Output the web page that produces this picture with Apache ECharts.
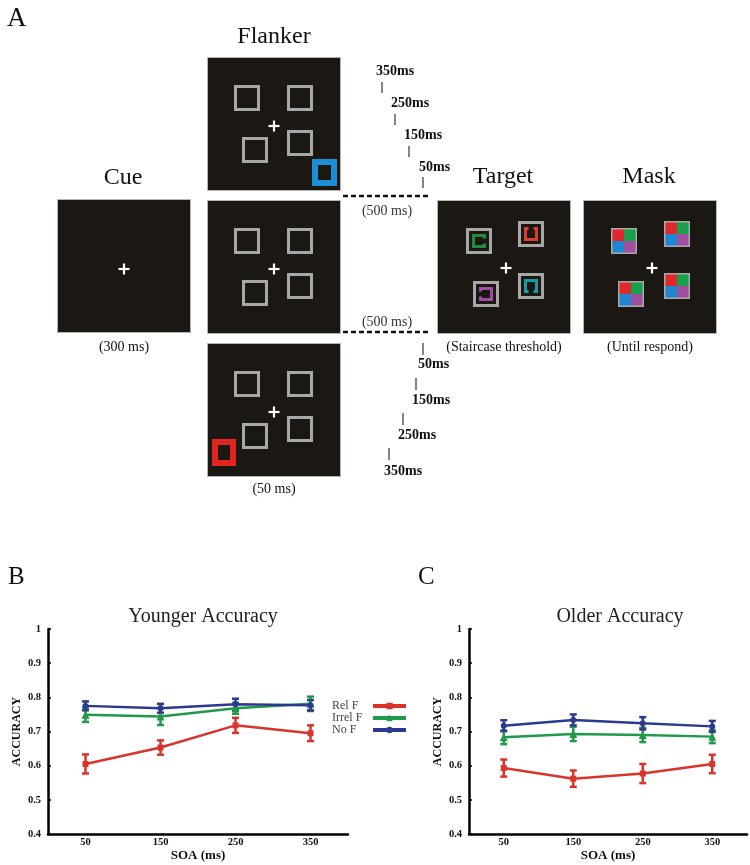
<!DOCTYPE html>
<html>
<head>
<meta charset="utf-8">
<script src="https://cdn.jsdelivr.net/npm/echarts@6/dist/echarts.min.js"></script>
<style>html,body{margin:0;padding:0;background:#fff;}#c{width:750px;height:865px;}</style>
</head>
<body>
<div id="c"></div>
<script>
// ---- data ----
var soa = [50, 150, 250, 350];
var seriesNames = ['Rel F', 'Irrel F', 'No F'];
var youngRel = [0.605, 0.653, 0.718, 0.695];
var youngRelErr = [0.028, 0.021, 0.022, 0.023];
var youngIrrel = [0.749, 0.744, 0.768, 0.781];
var youngIrrelErr = [0.021, 0.025, 0.016, 0.021];
var youngNo = [0.775, 0.768, 0.780, 0.777];
var youngNoErr = [0.013, 0.013, 0.016, 0.015];
var oldRel = [0.593, 0.562, 0.577, 0.605];
var oldRelErr = [0.025, 0.024, 0.028, 0.027];
var oldIrrel = [0.683, 0.693, 0.690, 0.685];
var oldIrrelErr = [0.020, 0.021, 0.021, 0.019];
var oldNo = [0.717, 0.734, 0.724, 0.715];
var oldNoErr = [0.016, 0.016, 0.018, 0.016];
var yTicks = [0.4, 0.5, 0.6, 0.7, 0.8, 0.9, 1];

var colors = ['#d9342b', '#1f9a4a', '#2b3990'];
var symbols = ['rect', 'triangle', 'circle'];
var SERIF = "'Liberation Serif', 'DejaVu Serif', serif";

// ---- diagram helpers (panel A) ----
var G = [];
function rect(x, y, w, h, fill, stroke, lw) {
  G.push({type: 'rect', silent: true, shape: {x: x, y: y, width: w, height: h},
    style: {fill: fill || 'none', stroke: stroke || 'none', lineWidth: lw || 0}});
}
function line(x1, y1, x2, y2, color, lw, dash) {
  G.push({type: 'line', silent: true, shape: {x1: x1, y1: y1, x2: x2, y2: y2},
    style: {stroke: color, lineWidth: lw, lineDash: dash || null}});
}
function txt(t, x, y, size, align, bold, color) {
  G.push({type: 'text', silent: true, style: {text: t, x: x, y: y,
    font: (bold ? 'bold ' : '') + size + 'px ' + SERIF, textAlign: align || 'center',
    textVerticalAlign: 'middle', fill: color || '#111'}});
}
function cross(cx, cy) {
  line(cx - 5.5, cy, cx + 5.5, cy, '#ffffff', 2.2);
  line(cx, cy - 5.5, cx, cy + 5.5, '#ffffff', 2.2);
}
function panel(x, y) { rect(x + 0.5, y + 0.5, 133, 133, '#1b1814', '#b5b5b5', 1); }
function graySq(x, y) { rect(x + 1.5, y + 1.5, 23, 23, 'none', '#a7a7a7', 3); }
function flankerPanel(y) {
  panel(207, y);
  graySq(234, y + 28); graySq(287, y + 28);
  graySq(242, y + 80); graySq(287, y + 73);
  cross(274, y + 69);
}
function cshape(x, y, color, side) {
  graySq(x, y);
  var cx = x + 13, cy = y + 13, h = 5.5, g = 2.5;
  var pts = [[h, -g], [h, -h], [-h, -h], [-h, h], [h, h], [h, g]];
  var k = {right: 0, top: 1, left: 2, bottom: 3}[side];
  pts = pts.map(function (p) {
    var dx = p[0], dy = p[1];
    for (var i = 0; i < k; i++) { var t = dx; dx = dy; dy = -t; }
    return [cx + dx, cy + dy];
  });
  G.push({type: 'polyline', silent: true, shape: {points: pts},
    style: {stroke: color, lineWidth: 3, fill: 'none', lineJoin: 'miter'}});
}
function maskSq(x, y) {
  rect(x, y, 13, 13, '#e0282a'); rect(x + 13, y, 13, 13, '#17a14b');
  rect(x, y + 13, 13, 13, '#1f86d2'); rect(x + 13, y + 13, 13, 13, '#a0509f');
  rect(x + 0.75, y + 0.75, 24.5, 24.5, 'none', '#a9a9a9', 1.5);
}

// panel letters and titles
txt('A', 7, 19, 27, 'left');
txt('Flanker', 274, 37, 24);
txt('Cue', 123, 178, 24);
txt('Target', 503, 177, 24);
txt('Mask', 649, 177, 24);
txt('B', 8, 577, 25, 'left');
txt('C', 418, 577, 25, 'left');

// cue
panel(57, 199); cross(124, 269);
txt('(300 ms)', 124, 347, 14);
// flankers
flankerPanel(57); rect(315, 162, 19, 21, 'none', '#1a8fd6', 6);
flankerPanel(200);
flankerPanel(343); rect(215, 442, 18, 21, 'none', '#e0251f', 6);
txt('(50 ms)', 274, 489, 14);
// dashed lines
line(343, 196, 430, 196, '#111', 2.5, [5, 3]);
line(343, 332, 430, 332, '#111', 2.5, [5, 3]);
txt('(500 ms)', 387, 211, 14, 'center', false, '#333');
txt('(500 ms)', 387, 322, 14, 'center', false, '#333');
// timings top
var topT = [['350ms', 376, 71, 382, 82], ['250ms', 391, 103, 395, 114], ['150ms', 404, 135, 409, 146], ['50ms', 419, 167, 423, 177]];
topT.forEach(function (t) { txt(t[0], t[1], t[2], 14, 'left', true); line(t[3], t[4], t[3], t[4] + 11, '#333', 1.2); });
var botT = [['50ms', 418, 364, 423, 343], ['150ms', 412, 400, 416, 378], ['250ms', 398, 435, 403, 413], ['350ms', 384, 471, 389, 448]];
botT.forEach(function (t) { txt(t[0], t[1], t[2], 14, 'left', true); line(t[3], t[4], t[3], t[4] + 12, '#333', 1.2); });
// target
panel(437, 200); cross(506, 268);
cshape(466, 228, '#1f8c40', 'right');
cshape(518, 221, '#d9412a', 'top');
cshape(473, 281, '#a34aa9', 'left');
cshape(518, 273, '#1a9ba0', 'bottom');
txt('(Staircase threshold)', 504, 347, 14);
// mask
panel(583, 200); cross(652, 268);
maskSq(611, 228); maskSq(664, 221); maskSq(618, 281); maskSq(664, 273);
txt('(Until respond)', 650, 347, 14);

// ---- charts ----
function pairs(vals) { return soa.map(function (s, i) { return [s, vals[i]]; }); }
function errs(vals, e) { return soa.map(function (s, i) { return [s, vals[i], e[i]]; }); }
function errRender(color) {
  return function (params, api) {
    var x = api.value(0), y = api.value(1), e = api.value(2);
    var lo = api.coord([x, y - e]), hi = api.coord([x, y + e]);
    var st = {stroke: color, lineWidth: 2.5};
    return {type: 'group', children: [
      {type: 'line', shape: {x1: lo[0], y1: lo[1], x2: hi[0], y2: hi[1]}, style: st},
      {type: 'line', shape: {x1: lo[0] - 3.5, y1: lo[1], x2: lo[0] + 3.5, y2: lo[1]}, style: st},
      {type: 'line', shape: {x1: hi[0] - 3.5, y1: hi[1], x2: hi[0] + 3.5, y2: hi[1]}, style: st}
    ]};
  };
}
var series = [];
var groups = [[youngRel, youngIrrel, youngNo], [oldRel, oldIrrel, oldNo]];
var groupErr = [[youngRelErr, youngIrrelErr, youngNoErr], [oldRelErr, oldIrrelErr, oldNoErr]];
[0, 1].forEach(function (gi) {
  for (var k = 0; k < 3; k++) {
    series.push({type: 'line', name: seriesNames[k], xAxisIndex: gi, yAxisIndex: gi,
      data: pairs(groups[gi][k]), symbol: symbols[k], symbolSize: k === 1 ? 8 : 6,
      lineStyle: {color: colors[k], width: 2.5}, itemStyle: {color: colors[k]},
      silent: true, z: 3, animation: false});
    series.push({type: 'custom', name: seriesNames[k] + ' error', xAxisIndex: gi, yAxisIndex: gi,
      renderItem: errRender(colors[k]), data: errs(groups[gi][k], groupErr[gi][k]), silent: true, z: 2});
  }
});
function xAxis(gi) {
  return {type: 'value', gridIndex: gi, min: 0, max: 400, interval: 50,
    name: 'SOA (ms)', nameLocation: 'middle', nameGap: 11,
    nameTextStyle: {fontFamily: SERIF, fontWeight: 'bold', fontSize: 13, color: '#111'},
    axisLine: {lineStyle: {color: '#000', width: 2.5}},
    axisTick: {show: false}, splitLine: {show: false},
    axisLabel: {fontFamily: SERIF, fontWeight: 'bold', fontSize: 10.5, color: '#111', margin: 3,
      formatter: function (v) { return soa.indexOf(v) >= 0 ? String(v) : ''; }}};
}
function yAxis(gi) {
  return {type: 'value', gridIndex: gi, min: yTicks[0], max: yTicks[yTicks.length - 1], interval: 0.1,
    name: 'ACCURACY', nameLocation: 'middle', nameRotate: 90, nameGap: 25,
    nameTextStyle: {fontFamily: SERIF, fontWeight: 'bold', fontSize: 12, color: '#111'},
    axisLine: {show: true, lineStyle: {color: '#000', width: 2.5}},
    axisTick: {show: true, inside: true, length: 3, lineStyle: {color: '#000', width: 1.5}},
    splitLine: {show: false},
    axisLabel: {fontFamily: SERIF, fontWeight: 'bold', fontSize: 10.5, color: '#111', margin: 7,
      formatter: function (v) { return String(Math.round(v * 10) / 10); }}};
}
var option = {
  animation: false,
  backgroundColor: '#ffffff',
  title: [
    {text: 'Younger Accuracy', left: 198, top: 602, textAlign: 'center',
      textStyle: {fontFamily: SERIF, fontWeight: 'normal', fontSize: 20, color: '#222'}},
    {text: 'Older Accuracy', left: 615, top: 602, textAlign: 'center',
      textStyle: {fontFamily: SERIF, fontWeight: 'normal', fontSize: 20, color: '#222'}}
  ],
  grid: [
    {left: 48, top: 629, width: 300, height: 205},
    {left: 469, top: 629, width: 296, height: 205}
  ],
  xAxis: [xAxis(0), xAxis(1)],
  yAxis: [yAxis(0), yAxis(1)],
  legend: {orient: 'vertical', left: 332, top: 700, padding: 0, align: 'right', itemWidth: 33, itemHeight: 8,
    itemGap: 0, data: seriesNames, selectedMode: false,
    lineStyle: {width: 4},
    formatter: function (n) { return '{a|' + n + '}'; },
    textStyle: {fontFamily: SERIF, fontSize: 12, color: '#444',
      rich: {a: {width: 36, height: 11.5, lineHeight: 11.5, align: 'left',
        fontFamily: SERIF, fontSize: 12, color: '#444'}}}},
  graphic: G,
  series: series
};
var chart = echarts.init(document.getElementById('c'), null, {renderer: 'canvas'});
chart.setOption(option);
</script>
</body>
</html>
